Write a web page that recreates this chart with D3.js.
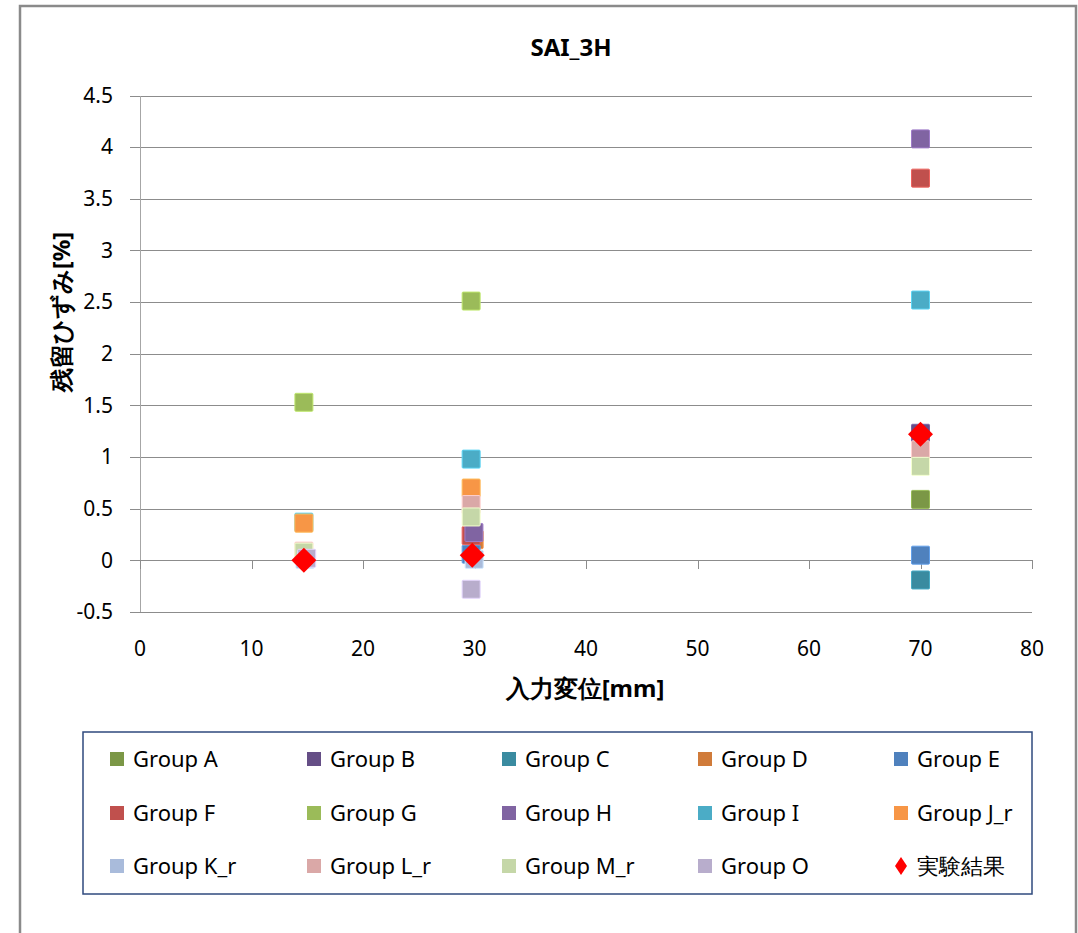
<!DOCTYPE html>
<html>
<head>
<meta charset="utf-8">
<script src="https://cdn.jsdelivr.net/npm/d3@7"></script>
<style>
  html, body { margin: 0; padding: 0; background: #fff; }
  svg { display: block; }
  text { font-family: "Noto Sans", "Open Sans", sans-serif; fill: #000; }
</style>
</head>
<body>
<svg id="chart" width="1078" height="933"></svg>
<script>
// Residual strain vs. input displacement, per analysis group, with test results.
const chartTitle = "SAI_3H";
const xLabel = "入力変位[mm]";
const yLabel = "残留ひずみ[%]";
const xTicks = [0, 10, 20, 30, 40, 50, 60, 70, 80];
const yTicks = [-0.5, 0, 0.5, 1, 1.5, 2, 2.5, 3, 3.5, 4, 4.5];

const groupNames = ["Group A", "Group B", "Group C", "Group D", "Group E",
                    "Group F", "Group G", "Group H", "Group I", "Group J_r",
                    "Group K_r", "Group L_r", "Group M_r", "Group O"];
const groupColors = ["#7b9746", "#654e86", "#3a8ba0", "#d07b3a", "#4f81bd",
                     "#c0504d", "#9bbb59", "#8064a2", "#4bacc6", "#f79646",
                     "#a9bbdb", "#daa8a7", "#c5d7a8", "#b8adcc"];

// [input displacement (mm), residual strain (%)]
const groupA  = [[70, 0.59]];
const groupB  = [[70, 1.23]];
const groupC  = [[70, -0.19]];
const groupD  = [[29.97, 0.20]];
const groupE  = [[29.7, 0.06], [70, 0.05]];
const groupF  = [[29.7, 0.24], [70, 3.70]];
const groupG  = [[14.7, 1.53], [29.7, 2.51]];
const groupH  = [[29.95, 0.27], [70, 4.08]];
const groupI  = [[14.7, 0.37], [29.7, 0.98], [70, 2.52]];
const groupJr = [[14.7, 0.36], [29.7, 0.70]];
const groupKr = [[14.8, 0.01], [29.97, 0.01]];
const groupLr = [[14.7, 0.09], [29.7, 0.54], [70, 1.07]];
const groupMr = [[14.7, 0.08], [29.7, 0.42], [70, 0.91]];
const groupO  = [[14.95, 0.02], [29.7, -0.28]];
const testName = "実験結果";
const testResults = [[14.7, 0.0], [29.8, 0.05], [70, 1.22]];

const groupData = [groupA, groupB, groupC, groupD, groupE, groupF, groupG,
                   groupH, groupI, groupJr, groupKr, groupLr, groupMr, groupO];

const svg = d3.select("#chart");
const gridColor = "#8c8c8c";

// Outer chart frame
svg.append("rect")
  .attr("x", 20).attr("y", 6)
  .attr("width", 1056).attr("height", 960)
  .attr("fill", "#fff").attr("stroke", "#8a8a8a").attr("stroke-width", 2.5);

const plot = { left: 140, right: 1032, top: 95.5, bottom: 612 };
const x = d3.scaleLinear().domain([0, 80]).range([plot.left, plot.right]);
const y = d3.scaleLinear().domain([-0.5, 4.5]).range([plot.bottom, plot.top]);

// Title
svg.append("text")
  .attr("x", 571).attr("y", 56)
  .attr("text-anchor", "middle")
  .attr("font-size", 24).attr("font-weight", "bold")
  .text(chartTitle);

// Horizontal gridlines with outside ticks on the value axis
const yAxis = d3.axisLeft(y).tickValues(yTicks).tickSize(-(plot.right - plot.left))
  .tickFormat(d => String(d)).tickPadding(27);
const gy = svg.append("g").attr("transform", `translate(${plot.left},0)`).call(yAxis);
gy.select(".domain").remove();
gy.selectAll(".tick line").attr("stroke", gridColor).attr("x1", -10).attr("shape-rendering", "crispEdges");
gy.selectAll(".tick text").attr("font-size", 21).attr("font-family", "Noto Sans, sans-serif").attr("fill", "#000");

// Value axis line
svg.append("line")
  .attr("x1", plot.left).attr("x2", plot.left)
  .attr("y1", plot.top).attr("y2", plot.bottom)
  .attr("stroke", "#a6a6a6").attr("shape-rendering", "crispEdges");

// Category axis crossing at zero, ticks pointing down
const xAxis = d3.axisBottom(x).tickValues(xTicks).tickSize(9).tickFormat(() => "");
const gx = svg.append("g").attr("transform", `translate(0,${y(0)})`).call(xAxis);
gx.select(".domain").remove();
gx.selectAll(".tick line").attr("stroke", gridColor).attr("shape-rendering", "crispEdges");

// Category tick labels sit below the plot
svg.append("g").selectAll("text").data(xTicks).join("text")
  .attr("x", d => x(d)).attr("y", 656)
  .attr("text-anchor", "middle").attr("font-size", 21)
  .text(d => d);

// Axis titles
svg.append("text")
  .attr("x", 585).attr("y", 697)
  .attr("text-anchor", "middle")
  .attr("font-size", 24).attr("font-weight", "bold")
  .text(xLabel);
svg.append("text")
  .attr("transform", "translate(70,312) rotate(-90)")
  .attr("text-anchor", "middle")
  .attr("font-size", 24).attr("font-weight", "bold")
  .text(yLabel);

// Square markers, one layer per group in legend order
const half = 9;
groupData.forEach((pts, i) => {
  const c = groupColors[i];
  svg.append("g").selectAll("rect").data(pts).join("rect")
    .attr("x", d => x(d[0]) - half).attr("y", d => y(d[1]) - half)
    .attr("width", half * 2).attr("height", half * 2)
    .attr("rx", 1)
    .attr("fill", c)
    .attr("stroke", d3.color(c).brighter(0.6)).attr("stroke-width", 1);
});

// Test results as red diamonds
const dr = 12.5;
svg.append("g").selectAll("path").data(testResults).join("path")
  .attr("d", d => {
    const cx = x(d[0]), cy = y(d[1]);
    return `M${cx},${cy - dr}L${cx + dr},${cy}L${cx},${cy + dr}L${cx - dr},${cy}Z`;
  })
  .attr("fill", "#ff0000");

// Legend
svg.append("rect")
  .attr("x", 83).attr("y", 732).attr("width", 949).attr("height", 162)
  .attr("fill", "#fff").attr("stroke", "#2f4a7e").attr("stroke-width", 1.5);

const legendItems = groupNames.map((n, i) => ({ name: n, color: groupColors[i], diamond: false }))
  .concat([{ name: testName, color: "#ff0000", diamond: true }]);
const colX = [110, 307, 502, 698, 894];
const rowY = [759, 813, 866];
const lg = svg.append("g").selectAll("g").data(legendItems).join("g")
  .attr("transform", (d, i) => `translate(${colX[i % 5]},${rowY[Math.floor(i / 5)]})`);
lg.filter(d => !d.diamond).append("rect")
  .attr("x", 0).attr("y", -7).attr("width", 14).attr("height", 14)
  .attr("fill", d => d.color);
lg.filter(d => d.diamond).append("path")
  .attr("d", "M7,-9L13,0L7,9L1,0Z")
  .attr("fill", "#ff0000");
lg.append("text")
  .attr("x", 23).attr("y", 8)
  .attr("font-size", 22)
  .text(d => d.name);
</script>
</body>
</html>
